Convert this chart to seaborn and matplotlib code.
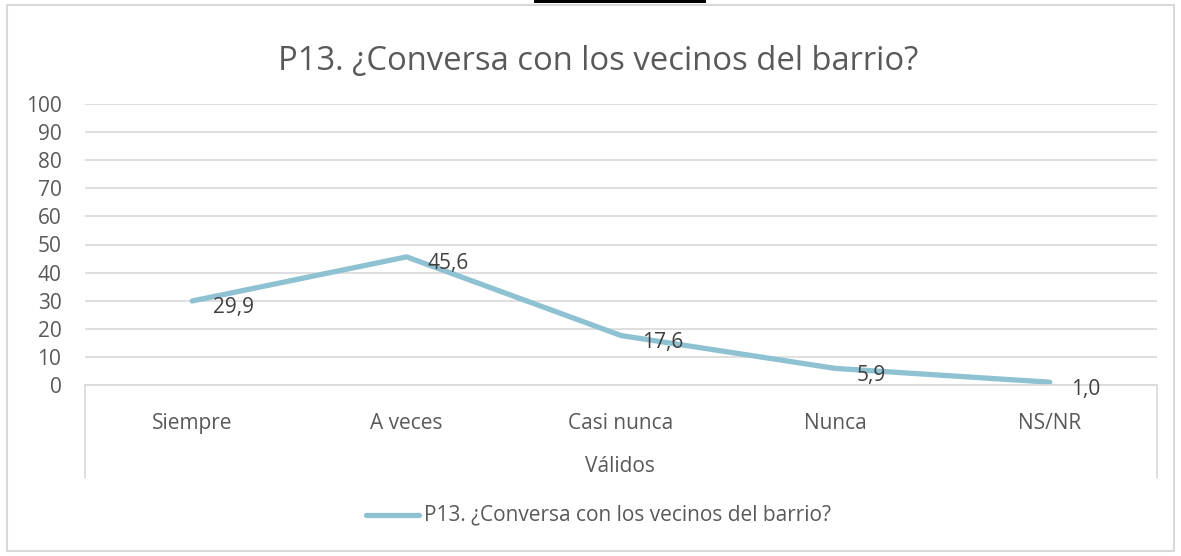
import matplotlib
matplotlib.use("Agg")
import matplotlib.pyplot as plt
from matplotlib.patches import Rectangle
from matplotlib.lines import Line2D
import seaborn as sns
import pandas as pd

# === Datos ===
categorias = ["Siempre", "A veces", "Casi nunca", "Nunca", "NS/NR"]
valores = [29.9, 45.6, 17.6, 5.9, 1.0]
etiquetas = ["29,9", "45,6", "17,6", "5,9", "1,0"]
titulo = "P13. ¿Conversa con los vecinos del barrio?"
grupo = "Válidos"

df = pd.DataFrame({"categoria": categorias, "valor": valores})

sns.set_theme(style="white")
plt.rcParams["font.family"] = ["Open Sans", "DejaVu Sans"]

color_linea = "#8EC2D3"
color_texto = "#595959"
color_grid = "#D9D9D9"

fig = plt.figure(figsize=(11.81, 5.56), dpi=100)
W, H = 1181, 556
ax = fig.add_axes([85 / W, 1 - 385 / H, (1157 - 85) / W, (385 - 104) / H])

sns.lineplot(data=df, x="categoria", y="valor", sort=False, ax=ax,
             color=color_linea, linewidth=3.8, legend=False,
             solid_capstyle="round", solid_joinstyle="miter")

ax.set_xlim(-0.5, len(categorias) - 0.5)
ax.set_ylim(0, 100)
ax.set_yticks(range(0, 101, 10))
ax.yaxis.grid(True, color=color_grid, linewidth=1.2)
ax.set_axisbelow(True)
for s in ["top", "right", "left"]:
    ax.spines[s].set_visible(False)
ax.spines["bottom"].set_color(color_grid)
ax.spines["bottom"].set_linewidth(1.2)
ax.tick_params(axis="y", length=0, labelsize=15, labelcolor=color_texto, pad=17)
ax.tick_params(axis="x", length=0, labelsize=15, labelcolor=color_texto, pad=20)
ax.set_xlabel("")
ax.set_ylabel("")

# etiquetas de datos
for i, (v, t) in enumerate(zip(valores, etiquetas)):
    ax.annotate(t, (i, v), xytext=(21, -7), textcoords="offset pixels",
                ha="left", va="center", fontsize=15, color="#404040")

# lineas del grupo de categorias
for xp in [85, 1157]:
    fig.add_artist(Line2D([xp / W, xp / W], [1 - 385 / H, 1 - 478 / H],
                          color=color_grid, linewidth=1.2))
fig.text(620 / W, 1 - 466 / H, grupo, ha="center", va="center",
         fontsize=15, color=color_texto)

# titulo
fig.text(598 / W, 1 - 62 / H, titulo, ha="center", va="center",
         fontsize=23.6, color=color_texto)

# leyenda
fig.add_artist(Line2D([366 / W, 419 / W], [1 - 515 / H, 1 - 515 / H],
                      color=color_linea, linewidth=3.8, solid_capstyle="round"))
fig.text(424 / W, 1 - 515 / H, titulo, ha="left", va="center",
         fontsize=15, color=color_texto)

# borde del grafico
fig.add_artist(Rectangle((7 / W, 1 - 551 / H), (1174 - 7) / W, (551 - 5) / H,
                         transform=fig.transFigure, fill=False,
                         edgecolor=color_grid, linewidth=1.5))
fig.add_artist(Rectangle((534 / W, 1 - 3 / H), (706 - 534) / W, 3 / H,
                         transform=fig.transFigure, facecolor="black",
                         edgecolor="none"))

fig.savefig("out.png", dpi=100)
